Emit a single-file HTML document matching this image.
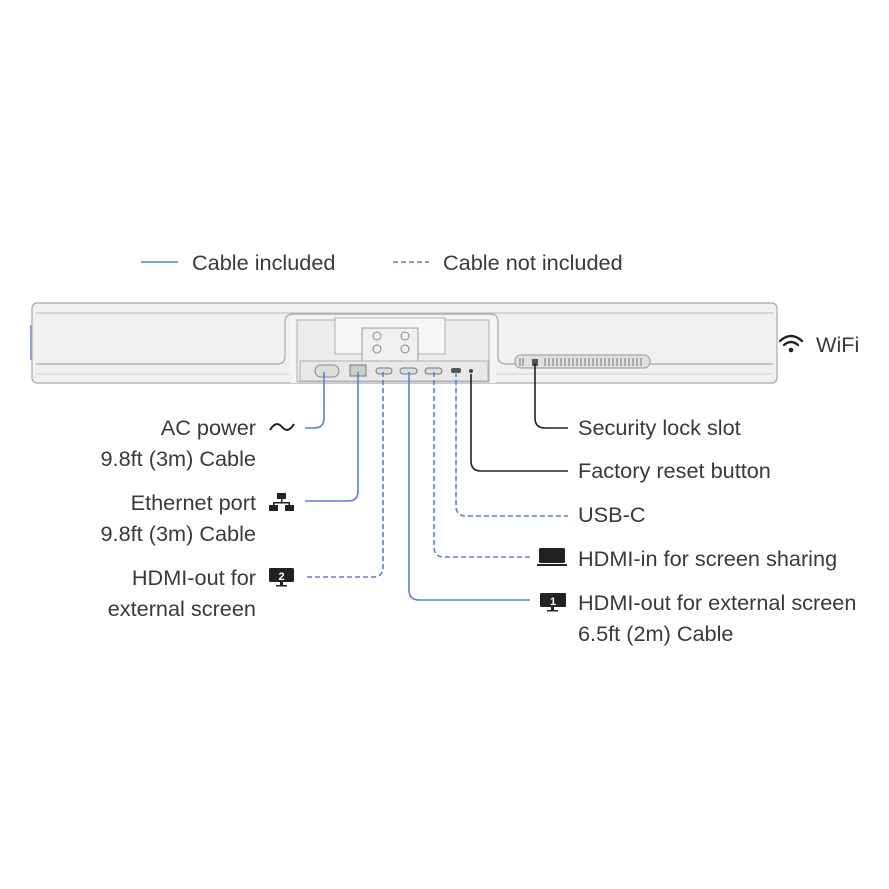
<!DOCTYPE html>
<html><head><meta charset="utf-8"><style>
html,body{margin:0;padding:0;background:#fff;}
svg{display:block}
text{font-family:"Liberation Sans",sans-serif;font-size:21.7px;fill:#3a3a3a;}
</style></head><body>
<svg width="889" height="889" viewBox="0 0 889 889" xmlns="http://www.w3.org/2000/svg">
<!-- legend -->
<line x1="141" y1="262" x2="178" y2="262" stroke="#5b7fdc" stroke-width="1.6"/>
<text x="192" y="270">Cable included</text>
<line x1="393" y1="262" x2="429" y2="262" stroke="#5b7fdc" stroke-width="1.6" stroke-dasharray="5,3"/>
<text x="443" y="270">Cable not included</text>

<!-- bar -->
<rect x="32" y="303" width="745" height="80" rx="5" fill="#f0f0f0" stroke="#a8a8a8" stroke-width="1.2"/>
<line x1="36" y1="313" x2="773" y2="313" stroke="#bdbdbd"/>
<line x1="36" y1="374" x2="773" y2="374" stroke="#cfcfcf"/>
<path d="M36 364 H277 Q285 364 285 356 V322 Q285 314 293 314 H490 Q498 314 498 322 V356 Q498 364 506 364 H773" fill="none" stroke="#a8a8a8" stroke-width="1.2"/>
<rect x="290" y="316" width="206" height="67" fill="#f4f4f4"/>
<rect x="297" y="320" width="192" height="62" fill="#ececec" stroke="#b0b0b0"/>
<rect x="335" y="318" width="110" height="36" fill="#f6f6f6" stroke="#b0b0b0"/>
<rect x="362" y="328" width="56" height="33" fill="#f0f0f0" stroke="#999"/>
<circle cx="377" cy="336" r="4" fill="none" stroke="#888"/><circle cx="405" cy="336" r="4" fill="none" stroke="#888"/>
<circle cx="377" cy="349" r="4" fill="none" stroke="#888"/><circle cx="405" cy="349" r="4" fill="none" stroke="#888"/>
<rect x="300" y="361" width="188" height="20" fill="#e8e8e8" stroke="#b0b0b0"/>
<rect x="315" y="365" width="24" height="12" rx="6" fill="#ddd" stroke="#888"/>
<rect x="350" y="365" width="16" height="11" fill="#ccc" stroke="#777"/>
<rect x="376" y="368" width="16" height="6" rx="3" fill="#ddd" stroke="#777"/>
<rect x="400" y="368" width="17" height="6" rx="3" fill="#ddd" stroke="#777"/>
<rect x="425" y="368" width="17" height="6" rx="3" fill="#ddd" stroke="#777"/>
<rect x="451" y="368" width="10" height="5" rx="2" fill="#555"/>
<circle cx="471" cy="371" r="2" fill="#444"/>
<rect x="515" y="355" width="135" height="13" rx="6" fill="#e0e0e0" stroke="#999"/>
<path d="M520 358 V366 M523 358 V366 M545 358 V366 M549 358 V366 M553 358 V366 M557 358 V366 M561 358 V366 M565 358 V366 M569 358 V366 M573 358 V366 M577 358 V366 M581 358 V366 M585 358 V366 M589 358 V366 M593 358 V366 M597 358 V366 M601 358 V366 M605 358 V366 M609 358 V366 M613 358 V366 M617 358 V366 M621 358 V366 M625 358 V366 M629 358 V366 M633 358 V366 M637 358 V366 M641 358 V366" stroke="#888" stroke-width="1.2"/>
<rect x="532" y="359" width="6" height="7" fill="#555"/>
<line x1="31" y1="325" x2="31" y2="360" stroke="#8aa0e0" stroke-width="2"/>

<!-- connectors -->
<g fill="none" stroke-width="1.6">
<path d="M324 372 V418 Q324 428 314 428 H305" stroke="#5b7fdc"/>
<path d="M358 372 V491 Q358 501 348 501 H305" stroke="#5b7fdc"/>
<path d="M383 372 V567 Q383 577 373 577 H305" stroke="#5b7fdc" stroke-dasharray="5,3"/>
<path d="M409 372 V590 Q409 600 419 600 H530" stroke="#5b7fdc"/>
<path d="M434 372 V547 Q434 557 444 557 H530" stroke="#5b7fdc" stroke-dasharray="5,3"/>
<path d="M456 372 V506 Q456 516 466 516 H568" stroke="#5b7fdc" stroke-dasharray="5,3"/>
<path d="M471 374 V461 Q471 471 481 471 H568" stroke="#222"/>
<path d="M535 363 V418 Q535 428 545 428 H568" stroke="#222"/>
</g>

<!-- left labels -->
<g text-anchor="end">
<text x="256" y="435">AC power</text>
<text x="256" y="466">9.8ft (3m) Cable</text>
<text x="256" y="510">Ethernet port</text>
<text x="256" y="541">9.8ft (3m) Cable</text>
<text x="256" y="585">HDMI-out for</text>
<text x="256" y="616">external screen</text>
</g>
<path d="M270 430 Q276 420 282 427 Q288 434 294 424" fill="none" stroke="#222" stroke-width="2"/>
<g fill="#222">
<rect x="277" y="493" width="9" height="6"/><rect x="281" y="499" width="1.5" height="4"/>
<rect x="273" y="502" width="17" height="1.5"/><rect x="273" y="502" width="1.5" height="3"/><rect x="288.5" y="502" width="1.5" height="3"/>
<rect x="269" y="505" width="9" height="6"/><rect x="285" y="505" width="9" height="6"/>
<rect x="269" y="568" width="25" height="14" rx="1.5"/><rect x="280" y="582" width="3" height="3"/><rect x="276" y="585" width="11" height="1.5"/>
<rect x="539" y="548" width="26" height="15" rx="1.5"/><rect x="537" y="564" width="30" height="2"/>
<rect x="540" y="593" width="26" height="14" rx="1.5"/><rect x="551" y="607" width="3" height="3"/><rect x="547" y="610" width="11" height="1.5"/>
</g>
<text x="281.5" y="580" text-anchor="middle" style="font-size:11px;font-weight:bold;fill:#fff">2</text>
<text x="553" y="605" text-anchor="middle" style="font-size:11px;font-weight:bold;fill:#fff">1</text>

<!-- right labels -->
<text x="578" y="435">Security lock slot</text>
<text x="578" y="478">Factory reset button</text>
<text x="578" y="522">USB-C</text>
<text x="578" y="566">HDMI-in for screen sharing</text>
<text x="578" y="610">HDMI-out for external screen</text>
<text x="578" y="641">6.5ft (2m) Cable</text>

<!-- wifi -->
<g fill="none" stroke="#222" stroke-width="2.4" stroke-linecap="round">
<path d="M780 341 Q791 331 802 341"/><path d="M784 345 Q791 339 798 345"/>
</g>
<circle cx="791" cy="350" r="2.3" fill="#222"/>
<text x="816" y="352">WiFi</text>
</svg>
</body></html>
